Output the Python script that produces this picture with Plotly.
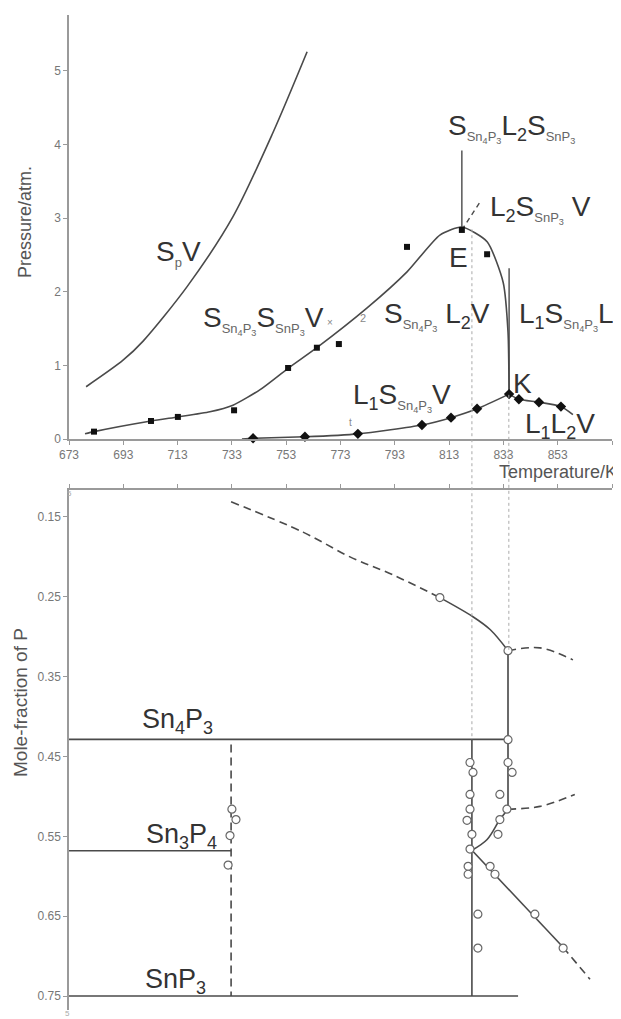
import plotly.graph_objects as go

# The page adds an 8px body margin, so the figure is sized to the visible area
OFF = 8
W, H = 621 - OFF, 1019 - OFF

# ---------------- Top panel data (Temperature/K vs Pressure/atm) ----------------
spv_T = [679.3, 692.9, 700.3, 716.5, 733.4, 748.1, 760.7]
spv_P = [0.71, 1.07, 1.33, 2.07, 3.02, 4.16, 5.26]

upper_T = [678.9, 682.2, 703.2, 713.1, 724.9, 733.4, 743.4, 753.7, 764.3, 782.8, 797.5, 809.6, 817.7, 827.0, 832.9, 834.7, 835.1]
upper_P = [0.07, 0.10, 0.245, 0.30, 0.37, 0.46, 0.67, 0.96, 1.24, 1.78, 2.27, 2.77, 2.88, 2.68, 2.13, 1.45, 0.60]

sq_T = [682.2, 703.2, 713.1, 733.8, 753.7, 764.3, 772.4, 797.5, 817.7, 827.0]
sq_P = [0.10, 0.245, 0.30, 0.39, 0.965, 1.24, 1.29, 2.61, 2.84, 2.51]

dm_T = [740.8, 759.9, 779.4, 803.0, 813.7, 823.3, 835.1, 838.7, 846.1, 854.2]
dm_P = [0.01, 0.03, 0.07, 0.19, 0.29, 0.41, 0.61, 0.54, 0.50, 0.44]

l1sv_T = [736.7, 740.8, 759.9, 779.4, 803.0, 813.7, 823.3, 835.1]
l1sv_P = [0.0, 0.01, 0.03, 0.07, 0.19, 0.29, 0.41, 0.61]

l1l2v_T = [835.1, 838.7, 846.1, 854.2, 858.6]
l1l2v_P = [0.61, 0.54, 0.50, 0.44, 0.33]

evert_T = [817.7, 817.7]
evert_P = [3.92, 2.84]
edash_T = [817.7, 824.4]
edash_P = [2.84, 3.22]
kvert_T = [835.1, 835.1]
kvert_P = [2.32, 0.60]

T_E_line = 821.4
T_K_line = 835.0

# ---------------- Bottom panel data (Temperature/K vs mole fraction of P) ----------------
sn4p3_T = [673, 834.7]
sn4p3_X = [0.4286, 0.4286]
sn3p4_T = [673, 732.7]
sn3p4_X = [0.568, 0.568]
snp3_T = [673, 838.4]
snp3_X = [0.75, 0.75]

dvert_T = [732.7, 732.7]
dvert_X = [0.435, 0.75]
svert_T = [821.4, 821.4]
svert_X = [0.4286, 0.75]

liq_dash_T = [732.7, 759.2, 776.5, 792.3, 809.6]
liq_dash_X = [0.131, 0.169, 0.2, 0.2225, 0.251]
liq_sol_T = [809.6, 821.8, 828.1, 834.7]
liq_sol_X = [0.251, 0.275, 0.291, 0.3175]
rdash1_T = [834.7, 846.5, 858.6]
rdash1_X = [0.3175, 0.314, 0.329]
kbot_T = [834.7, 834.7]
kbot_X = [0.3175, 0.516]
rdash2_T = [834.7, 846.5, 859.3]
rdash2_X = [0.516, 0.5125, 0.4975]
arc_T = [834.7, 831.7, 827.0, 821.4]
arc_X = [0.516, 0.529, 0.554, 0.5675]
diag_T = [821.4, 855.0]
diag_X = [0.5675, 0.689]
diagd_T = [855.0, 864.9]
diagd_X = [0.689, 0.729]

circ_T = [809.6, 834.7, 834.7, 820.7, 821.8, 820.7, 820.7, 819.6, 821.4, 820.7, 820.0, 820.0,
          834.7, 836.2, 831.7, 834.3, 831.7, 831.0, 828.1, 829.9, 823.6, 823.6, 844.6, 855.0,
          733.0, 734.5, 732.3, 731.6]
circ_X = [0.251, 0.3175, 0.429, 0.4575, 0.47, 0.4975, 0.516, 0.53, 0.5475, 0.566, 0.5875, 0.5975,
          0.4575, 0.47, 0.4975, 0.516, 0.529, 0.5475, 0.5875, 0.5975, 0.6475, 0.69, 0.6475, 0.69,
          0.516, 0.529, 0.549, 0.586]

temp_ticks = [673, 693, 713, 733, 753, 773, 793, 813, 833, 853, 873]
p_ticks = [0, 1, 2, 3, 4, 5]
x_ticks = [0.15, 0.25, 0.35, 0.45, 0.55, 0.65, 0.75]
x_tick_text = ["0.15", "0.25", "0.35", "0.45", "0.55", "0.65", "0.75"]

# ---------------- Layout geometry (screen pixels -> paper) ----------------
def px(x):
    return (x - OFF) / W

def py(y):
    return 1 - (y - OFF) / H

XDOM = [px(69), px(612)]
XR = [673, 873]
TOPDOM = [py(439), py(15)]
TOPR = [0, 5.76]
BOTDOM = [py(1010), py(490)]
BOTR = [0.7675, 0.11625]

def top_paper(p):
    return TOPDOM[0] + (p - TOPR[0]) / (TOPR[1] - TOPR[0]) * (TOPDOM[1] - TOPDOM[0])

def bot_paper(x):
    return BOTDOM[0] + (x - BOTR[0]) / (BOTR[1] - BOTR[0]) * (BOTDOM[1] - BOTDOM[0])

LINE = "#4a4a4a"
TXT = "#333333"
SUBC = "#666666"
AX = "#9a9a9a"
FONT = "Arial, Liberation Sans, sans-serif"

fig = go.Figure()

def line(x, y, xa="x", ya="y", dash="solid", width=1.6, color=LINE, shape="linear", smoothing=1.0):
    fig.add_trace(go.Scatter(x=x, y=y, mode="lines", xaxis=xa, yaxis=ya,
                             line=dict(color=color, width=width, dash=dash, shape=shape, smoothing=smoothing),
                             hoverinfo="skip", showlegend=False))

# top panel
line(spv_T, spv_P, shape="spline", smoothing=0.8)
line(upper_T, upper_P, shape="spline", smoothing=0.6)
line(l1sv_T, l1sv_P, shape="spline", smoothing=0.6)
line(l1l2v_T, l1l2v_P, shape="spline", smoothing=0.6)
line(evert_T, evert_P, width=1.4)
line(edash_T, edash_P, dash="5px,4px", width=1.4)
line(kvert_T, kvert_P, width=1.4)

fig.add_trace(go.Scatter(x=sq_T, y=sq_P, mode="markers", xaxis="x", yaxis="y",
                         marker=dict(symbol="square", size=6, color="#111"),
                         hoverinfo="skip", showlegend=False))
fig.add_trace(go.Scatter(x=dm_T, y=dm_P, mode="markers", xaxis="x", yaxis="y",
                         marker=dict(symbol="diamond", size=8, color="#111"),
                         hoverinfo="skip", showlegend=False, cliponaxis=False))

# bottom panel
DASH = "8px,5px"
line(sn4p3_T, sn4p3_X, "x2", "y2")
line(sn3p4_T, sn3p4_X, "x2", "y2")
line(snp3_T, snp3_X, "x2", "y2")
line(dvert_T, dvert_X, "x2", "y2", dash=DASH)
line(svert_T, svert_X, "x2", "y2")
line(liq_dash_T, liq_dash_X, "x2", "y2", dash=DASH, shape="spline")
line(liq_sol_T, liq_sol_X, "x2", "y2", shape="spline")
line(rdash1_T, rdash1_X, "x2", "y2", dash=DASH, shape="spline")
line(kbot_T, kbot_X, "x2", "y2", width=2.0, color="#6a6a6a")
line(rdash2_T, rdash2_X, "x2", "y2", dash=DASH, shape="spline")
line(arc_T, arc_X, "x2", "y2", shape="spline")
line(diag_T, diag_X, "x2", "y2")
line(diagd_T, diagd_X, "x2", "y2", dash=DASH)

fig.add_trace(go.Scatter(x=circ_T, y=circ_X, mode="markers", xaxis="x2", yaxis="y2",
                         marker=dict(symbol="circle", size=8, color="white",
                                     line=dict(color="#666", width=1.2)),
                         hoverinfo="skip", showlegend=False))

# dotted guide lines through both panels
shapes = [
    dict(type="line", xref="x", yref="paper", x0=T_E_line, x1=T_E_line,
         y0=top_paper(2.85), y1=bot_paper(sn4p3_X[0]),
         line=dict(color="#aaaaaa", width=1, dash="dot")),
    dict(type="line", xref="x", yref="paper", x0=T_K_line, x1=T_K_line,
         y0=top_paper(0.60), y1=bot_paper(liq_sol_X[-1]),
         line=dict(color="#aaaaaa", width=1, dash="dot")),
]

def ssub(s):
    return f"<sub><span style='font-size:13px;color:{SUBC}'>{s}</span></sub>"

def numsub(s):
    return f"<sub><span style='font-size:18px'>{s}</span></sub>"

SSN4P3 = "S" + f"<sub><span style='font-size:13px;color:{SUBC}'>Sn<sub>4</sub>P<sub>3</sub></span></sub>"
SSNP3 = "S" + f"<sub><span style='font-size:13px;color:{SUBC}'>SnP<sub>3</sub></span></sub>"

ann = []
def label(text, x, y, size=28, xref="x", yref="y", xanchor="center", yanchor="middle", color=TXT):
    ann.append(dict(text=text, x=x, y=y, xref=xref, yref=yref, showarrow=False,
                    xanchor=xanchor, yanchor=yanchor, font=dict(size=size, color=color, family=FONT)))

label("S" + ssub("p") + "V", 713.5, 2.53)
label(SSN4P3 + SSNP3 + "V", 744.6, 1.62)
label(SSN4P3 + " L" + numsub("2") + "V", 808.4, 1.67)
label("L" + numsub("1") + SSN4P3 + "L" + numsub("2"), 838.0, 1.67, xanchor="left")
label("E", 816.6, 2.47)
label("K", 840.2, 0.76)
label("L" + numsub("1") + SSN4P3 + "V", 795.5, 0.57)
label("L" + numsub("1") + "L" + numsub("2") + "V", 853.8, 0.19)
label(SSN4P3 + "L" + numsub("2") + SSNP3, 835.8, 4.22)
label("L" + numsub("2") + SSNP3 + " V", 846.8, 3.13)

# small stray marks from original
label("×", 769.1, 1.58, size=10, color="#888")
label("2", 781.3, 1.64, size=11, color="#888")
label("t", 776.5, 0.22, size=10, color="#888")

# compound labels in bottom panel
label("Sn" + numsub("4") + "P" + numsub("3"), 713.1, 0.405, xref="x2", yref="y2", size=27)
label("Sn" + numsub("3") + "P" + numsub("4"), 714.3, 0.550, xref="x2", yref="y2", size=27)
label("SnP" + numsub("3"), 712.4, 0.731, xref="x2", yref="y2", size=27)

# axis titles
def ptext(text, x, y, size, angle=0, xanchor="center", color="#555"):
    ann.append(dict(text=text, x=px(x), y=py(y), xref="paper", yref="paper",
                    showarrow=False, textangle=angle, xanchor=xanchor, yanchor="middle",
                    font=dict(size=size, color=color, family=FONT)))

ptext("Pressure/atm.", 25, 222, 18, angle=-90)
ptext("Mole-fraction of P", 20, 703, 19, angle=-90)
ptext("Temperature/K", 497, 472, 18, xanchor="left")
ptext("5", 69, 494, 8, color="#aaa")
ptext("5", 67, 1013, 8, color="#aaa")

axis_common = dict(showgrid=False, zeroline=False, showline=True, linecolor=AX, linewidth=1.5,
                   ticks="outside", ticklen=4, tickcolor=AX, tickwidth=1, automargin=False,
                   tickfont=dict(size=12, color="#777", family=FONT))

fig.update_layout(
    width=W, height=H,
    margin=dict(l=0, r=0, t=0, b=0, autoexpand=False),
    paper_bgcolor="white", plot_bgcolor="white",
    showlegend=False,
    xaxis=dict(domain=XDOM, range=XR, anchor="y", tickvals=temp_ticks, **axis_common),
    yaxis=dict(domain=TOPDOM, range=TOPR, anchor="x", tickvals=p_ticks, **axis_common),
    xaxis2=dict(domain=XDOM, range=XR, anchor="y2", side="top", tickvals=temp_ticks,
                showticklabels=False, **axis_common),
    yaxis2=dict(domain=BOTDOM, range=BOTR, anchor="x2", tickvals=x_ticks, ticktext=x_tick_text,
                **axis_common),
    annotations=ann,
    shapes=shapes,
)

fig.write_html("out.html")
